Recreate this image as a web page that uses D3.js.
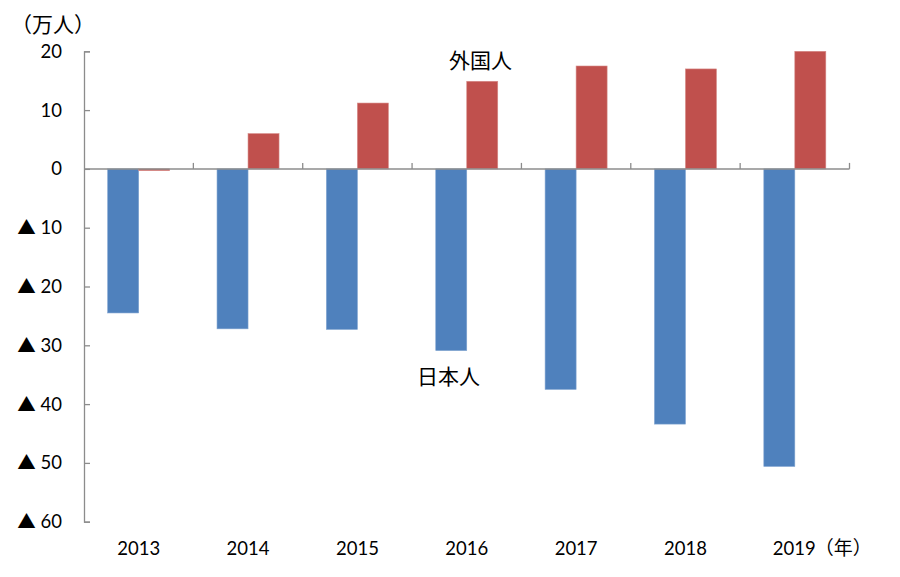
<!DOCTYPE html>
<html><head><meta charset="utf-8">
<script src="https://cdn.jsdelivr.net/npm/d3@7"></script>
<style>
html,body{margin:0;padding:0;background:#fff;}
text{font-family:Lato,"Noto Sans CJK JP",sans-serif;fill:#000;}
.cjk{font-family:"Noto Sans CJK JP",sans-serif;}
</style></head>
<body><svg id="c" width="900" height="577"></svg>
<script>
const years = ["2013","2014","2015","2016","2017","2018","2019"];
const seriesNames = ["日本人","外国人"];
const japanese = [-24.5,-27.2,-27.3,-30.9,-37.5,-43.4,-50.6];
const foreigners = [-0.3,6.0,11.2,14.9,17.5,17.0,20.0];
const yTicks = [20,10,0,-10,-20,-30,-40,-50,-60];
const colors = ["#4F81BD","#C0504D"];

const svg = d3.select("#c");
const mLeft = 84, mRight = 849.5, mTop = 51.3, mBottom = 521.7;
const x = d3.scaleBand().domain(years).range([mLeft,mRight]).padding(0);
const xs = d3.scaleBand().domain(seriesNames).range([0,x.bandwidth()]).paddingInner(0).paddingOuter(0.764);
const y = d3.scaleLinear().domain([-60,20]).range([mBottom,mTop]);

const axisColor = "#8c8c8c";

// bars
const data = years.map((yr,i)=>({yr, vals:[japanese[i],foreigners[i]]}));
const g = svg.append("g");
data.forEach(d=>{
  d.vals.forEach((v,j)=>{
    g.append("rect")
      .attr("x", x(d.yr)+xs(seriesNames[j]))
      .attr("width", xs.bandwidth())
      .attr("y", y(Math.max(0,v)))
      .attr("height", Math.abs(y(v)-y(0)))
      .attr("fill", colors[j])
      .attr("stroke", j===0? "#7fa3d0":"#d68a87")
      .attr("stroke-width",0.6);
  });
});

// y axis
const yAxis = d3.axisLeft(y).tickValues(yTicks).tickSize(-6).tickPadding(22)
  .tickFormat(d=> d<0 ? "▲ "+(-d) : String(d));
const ya = svg.append("g").attr("transform",`translate(${mLeft},0)`).call(yAxis);
ya.selectAll("path.domain").attr("stroke",axisColor).attr("stroke-width",1.3);
ya.selectAll(".tick line").attr("stroke",axisColor).attr("stroke-width",1.3);
ya.selectAll("text").style("font-family",'Lato,"Noto Sans CJK JP",sans-serif').style("font-size","18.5px").attr("fill","#000");

// x axis at zero line
const xa = svg.append("g").attr("transform",`translate(0,${y(0)})`);
xa.append("line").attr("x1",mLeft).attr("x2",mRight).attr("stroke",axisColor).attr("stroke-width",1.5);
const bounds = years.map(yr=>x(yr)).concat([mRight]).slice(1);
xa.selectAll("line.tk").data(bounds).join("line").attr("class","tk")
  .attr("x1",d=>d).attr("x2",d=>d).attr("y1",0).attr("y2",-6)
  .attr("stroke",axisColor).attr("stroke-width",1.3);

// x labels
const xl = d3.axisBottom(x).tickSize(0).tickPadding(0);
const xg = svg.append("g").attr("transform",`translate(0,542)`).call(xl);
xg.select("path.domain").remove();
xg.selectAll("text").style("font-family",'Lato,sans-serif').style("font-size","18.5px").attr("fill","#000");
// last label carries the unit （年）
const lastText = xg.selectAll(".tick text").filter(d=>d===years[years.length-1]);
lastText.attr("text-anchor","start").attr("x",-22);
lastText.append("tspan").attr("dx",-1)
  .style("font-family",'"Noto Sans CJK JP",sans-serif').style("font-size","19px").text("（年）");

// y unit
svg.append("text").attr("class","cjk").attr("x",11).attr("y",32).style("font-size","21px").text("（万人）");

// series labels
svg.append("text").attr("class","cjk").attr("x",449).attr("y",68).style("font-size","21px").text("外国人");
svg.append("text").attr("class","cjk").attr("x",417).attr("y",383.5).style("font-size","21px").text("日本人");
</script></body></html>
